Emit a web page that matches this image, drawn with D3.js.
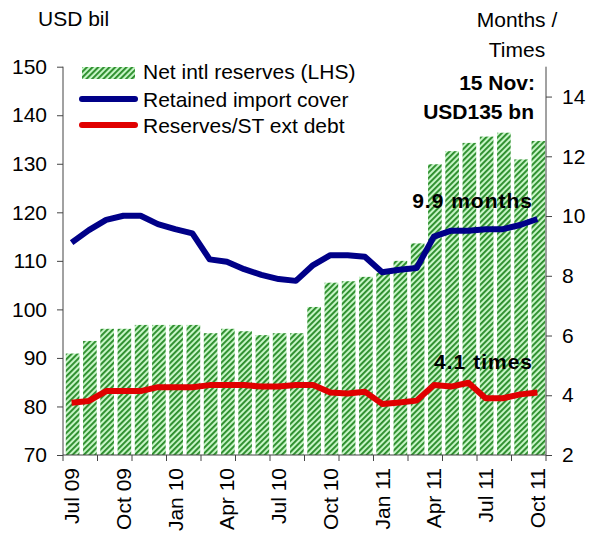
<!DOCTYPE html>
<html><head><meta charset="utf-8">
<script src="https://cdn.jsdelivr.net/npm/d3@7"></script>
<style>
html,body{margin:0;padding:0;background:#fff;}
text{font-family:"Liberation Sans",Arial,sans-serif;fill:#000;}
</style></head>
<body>
<svg id="chart" width="597" height="537"></svg>
<script>
const months = ["Jul 09","Aug 09","Sep 09","Oct 09","Nov 09","Dec 09",
  "Jan 10","Feb 10","Mar 10","Apr 10","May 10","Jun 10","Jul 10","Aug 10","Sep 10","Oct 10","Nov 10","Dec 10",
  "Jan 11","Feb 11","Mar 11","Apr 11","May 11","Jun 11","Jul 11","Aug 11","Sep 11","Oct 11"];
const reserves = [90.9,93.5,96.0,96.0,96.8,96.8,96.8,96.8,95.1,96.0,95.5,94.7,95.1,95.1,
  100.5,105.5,105.8,106.7,107.5,110.0,113.6,129.9,132.6,134.3,135.6,136.4,130.9,134.7];
const importCover = [9.11,9.53,9.87,10.01,10.01,9.73,9.56,9.42,8.55,8.47,8.22,8.03,7.89,7.83,
  8.36,8.69,8.69,8.64,8.12,8.2,8.26,9.31,9.51,9.51,9.56,9.56,9.70,9.90];
const stDebt = [3.75,3.81,4.14,4.14,4.14,4.27,4.27,4.27,4.34,4.34,4.34,4.29,4.29,4.34,
  4.34,4.09,4.06,4.12,3.71,3.76,3.82,4.34,4.29,4.42,3.90,3.90,4.03,4.09];
const leftTicks = [70,80,90,100,110,120,130,140,150];
const rightTicks = [2,4,6,8,10,12,14];
const xLabelMonths = ["Jul 09","Oct 09","Jan 10","Apr 10","Jul 10","Oct 10","Jan 11","Apr 11","Jul 11","Oct 11"];
const legendItems = ["Net intl reserves (LHS)","Retained import cover","Reserves/ST ext debt"];

const svg = d3.select("#chart");
const L = 63, R = 546, T = 66.7, B = 455;
const FS = 21;

const x = d3.scaleBand().domain(months).range([L, R]).padding(0);
const yL = d3.scaleLinear().domain([70,150]).range([B, T]);
const yR = d3.scaleLinear().domain([2,15]).range([B, T]);

// pattern
const defs = svg.append("defs");
const pat = defs.append("pattern").attr("id","hatch").attr("patternUnits","userSpaceOnUse")
  .attr("width",4).attr("height",4).attr("patternTransform","rotate(45)");
pat.append("rect").attr("width",4).attr("height",4).attr("fill","#c6f5c6");
pat.append("rect").attr("x",0).attr("width",1.9).attr("height",4).attr("fill","#2a8c2a");

// bars
const gap = 3.6;
svg.append("g").selectAll("rect").data(reserves).join("rect")
  .attr("x",(d,i)=>x(months[i]) + gap/2 + 1)
  .attr("width", x.bandwidth() - gap)
  .attr("y", d=>yL(d))
  .attr("height", d=>B - yL(d))
  .attr("fill","url(#hatch)");

// lines
const lineGen = ys => d3.line().x((d,i)=>x(months[i]) + x.bandwidth()/2).y(d=>ys(d));
svg.append("path").datum(importCover).attr("d", lineGen(yR))
  .attr("fill","none").attr("stroke","#000088").attr("stroke-width",6).attr("stroke-linejoin","round");
svg.append("path").datum(stDebt).attr("d", lineGen(yR))
  .attr("fill","none").attr("stroke","#e00000").attr("stroke-width",6).attr("stroke-linejoin","round");

// axes
const axisColor = "#444";
const gL = svg.append("g").attr("transform",`translate(${L},0)`)
  .call(d3.axisLeft(yL).tickValues(leftTicks).tickSize(6).tickPadding(10).tickSizeOuter(0));
const gR = svg.append("g").attr("transform",`translate(${R},0)`)
  .call(d3.axisRight(yR).tickValues(rightTicks).tickSize(6).tickPadding(10).tickSizeOuter(0));
[gL,gR].forEach(g=>{
  g.select(".domain").attr("stroke",axisColor).attr("d", `M0,${T}V${B}`);
  g.selectAll(".tick line").attr("stroke",axisColor);
  g.selectAll(".tick text").attr("font-size",FS).attr("font-family","Liberation Sans, Arial, sans-serif").attr("fill","#000");
});

// x axis
const gx = svg.append("g");
gx.append("line").attr("x1",L).attr("x2",R).attr("y1",B).attr("y2",B).attr("stroke",axisColor);
const tickIdx = d3.range(0, months.length+1, 2);
gx.selectAll("line.t").data(tickIdx).join("line").attr("class","t")
  .attr("x1", i=> i<months.length ? x(months[i]) : R)
  .attr("x2", i=> i<months.length ? x(months[i]) : R)
  .attr("y1",B).attr("y2",B+6).attr("stroke",axisColor);
gx.selectAll("text").data(xLabelMonths).join("text")
  .attr("transform", d=>`translate(${x(d)+x.bandwidth()/2},468) rotate(-90)`)
  .attr("text-anchor","end").attr("dy","0.36em").attr("font-size",FS).text(d=>d);

// titles
svg.append("text").attr("x",38).attr("y",26).attr("font-size",FS).text("USD bil");
svg.append("text").attr("x",517).attr("y",27).attr("text-anchor","middle").attr("font-size",FS).text("Months /");
svg.append("text").attr("x",517).attr("y",57).attr("text-anchor","middle").attr("font-size",FS).text("Times");

// legend
const lg = svg.append("g");
lg.append("rect").attr("x",82).attr("y",67).attr("width",53).attr("height",12).attr("fill","url(#hatch)");
lg.append("line").attr("x1",82).attr("x2",135).attr("y1",99).attr("y2",99)
  .attr("stroke","#000088").attr("stroke-width",6).attr("stroke-linecap","round");
lg.append("line").attr("x1",82).attr("x2",135).attr("y1",125).attr("y2",125)
  .attr("stroke","#e00000").attr("stroke-width",6).attr("stroke-linecap","round");
const lgY = [79,107,133];
lg.selectAll("text").data(legendItems).join("text")
  .attr("x",143).attr("y",(d,i)=>lgY[i]).attr("font-size",FS).text(d=>d);

// annotations
const ann = [
  {t:"15 Nov:", x:535, y:90, ls:0},
  {t:"USD135 bn", x:534, y:119, ls:0},
  {t:"9.9 months", x:533, y:208, ls:1},
  {t:"4.1 times", x:533, y:369, ls:1}
];
svg.append("g").selectAll("text").data(ann).join("text")
  .attr("x",d=>d.x).attr("y",d=>d.y).attr("text-anchor","end")
  .attr("font-size",FS).attr("font-weight","bold").attr("letter-spacing",d=>d.ls)
  .text(d=>d.t);
</script>
</body></html>
